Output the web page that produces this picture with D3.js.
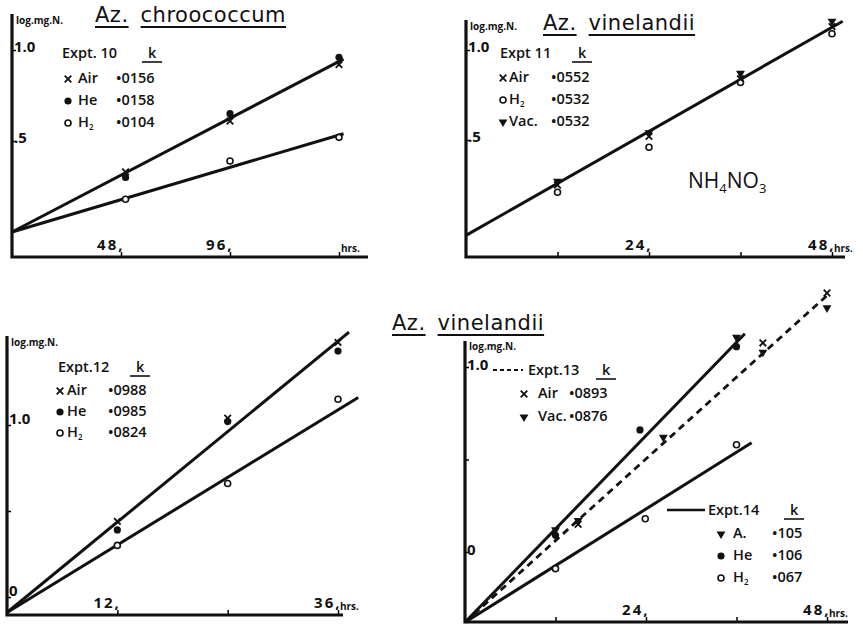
<!DOCTYPE html>
<html>
<head>
<meta charset="utf-8">
<script src="https://cdn.jsdelivr.net/npm/d3@7"></script>
<style>
  body { margin: 0; background: #fff; }
  svg { display: block; }
  text { font-family: "Open Sans", "DejaVu Sans", sans-serif; fill: #111; }
  .small { font-size: 10px; font-weight: 700; }
  .leg { font-size: 14.5px; font-weight: 600; }
  .title { font-size: 21px; font-family: "DejaVu Sans", sans-serif; letter-spacing: 0.5px; }
  .tick text { font-size: 15px; }
</style>
</head>
<body>
<div class="chart"></div>
<script>
// --- data (hours, log mg N) ---
// Expt 10, Az. chroococcum
var p1Hours = [50, 96, 144];
var p1Air = [0.33, 0.61, 0.92];
var p1He = [0.30, 0.65, 0.96];
var p1H2 = [0.18, 0.39, 0.52];
var p1FitHours = [0, 146];
var p1FitUpper = [0, 0.95];
var p1FitLower = [0, 0.54];
var p1Names = ["Air", "He", "H"];
var p1K = ["0156", "0158", "0104"];

// Expt 11, Az. vinelandii on NH4NO3
var p2Hours = [12, 24, 36, 48];
var p2Air = [0.25, 0.52, 0.84, 1.13];
var p2H2 = [0.21, 0.46, 0.82, 1.09];
var p2Vac = [0.27, 0.54, 0.87, 1.16];
var p2FitHours = [0, 49.4];
var p2Fit = [-0.03, 1.16];
var p2Names = ["Air", "H", "Vac."];
var p2K = ["0552", "0532", "0532"];

// Expt 12
var p3Hours = [12, 24, 36];
var p3Air = [0.44, 1.04, 1.48];
var p3He = [0.39, 1.02, 1.43];
var p3H2 = [0.30, 0.66, 1.15];
var p3FitHours = [0, 37.2, 38.2];
var p3FitUpper = [-0.09, 1.54];
var p3FitLower = [-0.09, 1.16];
var p3Names = ["Air", "He", "H"];
var p3K = ["0988", "0985", "0824"];

// Expt 13 (dashed) and Expt 14 (solid)
var p4AirHours = [15, 39.5, 48];
var p4Air = [0.15, 1.13, 1.40];
var p4VacHours = [15, 26.3, 39.5, 48];
var p4Vac = [0.17, 0.62, 1.08, 1.32];
var p4AHours = [12, 36];
var p4A = [0.12, 1.16];
var p4HeHours = [12, 23.2, 36];
var p4He = [0.09, 0.66, 1.11];
var p4H2Hours = [12, 23.9, 36];
var p4H2 = [-0.09, 0.18, 0.58];
var p4FitDashed = [[0, -0.38], [48.1, 1.39]];
var p4FitUpper = [[0, -0.38], [37.1, 1.18]];
var p4FitLower = [[0, -0.38], [38, 0.59]];
var p13Names = ["Air", "Vac."];
var p13K = ["0893", "0876"];
var p14Names = ["A.", "He", "H"];
var p14K = ["105", "106", "067"];

var svg = d3.select(".chart").append("svg")
			.attr("width", 863)
			.attr("height", 626);

function zip(xs, ys){
	return xs.map(function(d, i){ return [d, ys[i]]; });
}

function marker(g, kind, x, y){
	if(kind == "x"){
		g.append("path")
		 .attr("d", d3.symbol().type(d3.symbolTimes || d3.symbolX).size(30)())
		 .attr("transform", "translate(" + x + "," + y + ")")
		 .attr("fill", "none").attr("stroke", "#111").attr("stroke-width", 1.8);
	} else if(kind == "dot"){
		g.append("circle").attr("cx", x).attr("cy", y).attr("r", 3.6).attr("fill", "#111");
	} else if(kind == "circle"){
		g.append("circle").attr("cx", x).attr("cy", y).attr("r", 3)
		 .attr("fill", "#fff").attr("stroke", "#111").attr("stroke-width", 1.6);
	} else {
		g.append("path")
		 .attr("d", d3.symbol().type(d3.symbolTriangle).size(34)())
		 .attr("transform", "translate(" + x + "," + y + ") rotate(180)")
		 .attr("fill", "#111");
	}
}

function points(g, x, y, hours, vals, kind){
	zip(hours, vals).forEach(function(d){
		marker(g, kind, x(d[0]), y(d[1]));
	});
}

function fitLine(g, x, y, pts, dashed){
	g.append("path")
	 .datum(pts)
	 .attr("d", d3.line().x(function(d){ return x(d[0]); }).y(function(d){ return y(d[1]); }))
	 .attr("fill", "none")
	 .attr("stroke", "#111")
	 .attr("stroke-width", dashed ? 2.8 : 3)
	 .attr("stroke-dasharray", dashed ? "7,5" : null);
}

// frame of one panel: axes, tick marks, labels
function frame(p){
	var g = svg.append("g");
	var x = d3.scaleLinear().domain(p.xDomain).range(p.xRange);
	var y = d3.scaleLinear().domain(p.yDomain).range(p.yRange);

	var xa = g.append("g")
			  .attr("transform", "translate(0," + p.base + ")")
			  .call(d3.axisBottom(x)
					  .tickValues(p.xTicks)
					  .tickFormat(function(d, i){ return p.xLabels[i]; })
					  .tickSize(-5)
					  .tickPadding(-18));
	xa.select(".domain").remove();
	xa.selectAll("text").attr("text-anchor", "end").attr("dx", 3).attr("font-weight", 700)
	  .style("letter-spacing", "2px");
	xa.selectAll("line").attr("stroke-width", 1.5);

	var ya = g.append("g")
			  .attr("transform", "translate(" + p.xRange[0] + ",0)")
			  .call(d3.axisRight(y)
					  .tickValues(p.yTicks)
					  .tickFormat(function(d, i){ return p.yLabels[i]; })
					  .tickSize(4)
					  .tickPadding(-2));
	ya.select(".domain").remove();
	ya.selectAll("text").attr("dy", p.yDy).attr("font-weight", 700);
	ya.selectAll("line").attr("stroke-width", 1.5);

	// heavy hand-drawn axes
	g.append("path")
	 .attr("d", "M" + p.xRange[0] + "," + p.top + "V" + p.base + "H" + p.right)
	 .attr("fill", "none").attr("stroke", "#111").attr("stroke-width", 3.2);

	g.append("text").attr("class", "small")
	 .attr("x", x(p.hrsAt) + 2).attr("y", p.base - 5).text("hrs.");
	g.append("text").attr("class", "small")
	 .attr("x", p.xRange[0] + 4).attr("y", p.top + p.logDy).text("log.mg.N.");

	return {g: g, x: x, y: y};
}

function title(g, x, y, words){
	var cx = x;
	words.forEach(function(w){
		var t = g.append("text").attr("class", "title").attr("x", cx).attr("y", y).text(w);
		var b = t.node().getBBox();
		g.append("line").attr("x1", b.x).attr("x2", b.x + b.width)
		 .attr("y1", y + 5).attr("y2", y + 5).attr("stroke", "#111").attr("stroke-width", 1.8);
		cx = b.x + b.width + 12;
	});
}

function nameText(g, x, y, name){
	var t = g.append("text").attr("class", "leg").attr("x", x).attr("y", y).text(name);
	if(name == "H"){
		t.append("tspan").attr("dy", 3).attr("font-size", 8).text("2");
	}
	return t;
}

function header(g, x, y, label, kx){
	g.append("text").attr("class", "leg").attr("x", x).attr("y", y).text(label);
	g.append("text").attr("class", "leg").attr("x", kx).attr("y", y).attr("font-weight", 700).text("k");
	g.append("line").attr("x1", kx - 6).attr("x2", kx + 14).attr("y1", y + 4).attr("y2", y + 4)
	 .attr("stroke", "#111").attr("stroke-width", 1.6);
}

function legend(g, kinds, names, ks, mx, nx, kx, y0, dy){
	names.forEach(function(n, i){
		var yy = y0 + i * dy;
		marker(g, kinds[i], mx, yy - 4);
		nameText(g, nx, yy, n);
		g.append("text").attr("class", "leg").attr("x", kx).attr("y", yy)
		 .text("\u2022" + ks[i]);
	});
}

// ---------- panel 1 ----------
var a = frame({xDomain: [0, 144], xRange: [12, 339], yDomain: [0, 1], yRange: [232, 50],
			   base: 257, top: 14, right: 368, yDy: "0.1em", logDy: 10,
			   xTicks: [48, 96, 144], xLabels: ["48,", "96,", ""], hrsAt: 144,
			   yTicks: [1, 0.5], yLabels: ["1.0", ".5"]});
fitLine(a.g, a.x, a.y, zip(p1FitHours, p1FitUpper));
fitLine(a.g, a.x, a.y, zip(p1FitHours, p1FitLower));
points(a.g, a.x, a.y, p1Hours, p1H2, "circle");
points(a.g, a.x, a.y, p1Hours, p1He, "dot");
points(a.g, a.x, a.y, p1Hours, p1Air, "x");
title(a.g, 95, 22, ["Az.", "chroococcum"]);
header(a.g, 62, 58, "Expt. 10", 148);
legend(a.g, ["x", "dot", "circle"], p1Names, p1K, 68, 78, 116, 83, 22);

// ---------- panel 2 ----------
var b = frame({xDomain: [0, 48], xRange: [466, 832], yDomain: [0, 1], yRange: [230, 50],
			   base: 257, top: 20, right: 845, yDy: "0.1em", logDy: 10,
			   xTicks: [12, 24, 36, 48], xLabels: ["", "24,", "", "48,"], hrsAt: 48,
			   yTicks: [1, 0.5], yLabels: ["1.0", ".5"]});
fitLine(b.g, b.x, b.y, zip(p2FitHours, p2Fit));
points(b.g, b.x, b.y, p2Hours, p2H2, "circle");
points(b.g, b.x, b.y, p2Hours, p2Air, "x");
points(b.g, b.x, b.y, p2Hours, p2Vac, "tri");
title(b.g, 543, 30, ["Az.", "vinelandii"]);
header(b.g, 500, 58, "Expt 11", 578);
legend(b.g, ["x", "circle", "tri"], p2Names, p2K, 503, 509, 551, 82, 22);
var nh = b.g.append("text").attr("x", 688).attr("y", 188).attr("font-size", 21);
nh.append("tspan").text("NH");
nh.append("tspan").attr("dy", 5).attr("font-size", 13).text("4");
nh.append("tspan").attr("dy", -5).text("NO");
nh.append("tspan").attr("dy", 5).attr("font-size", 13).text("3");

// ---------- panel 3 ----------
var c = frame({xDomain: [0, 36], xRange: [7, 338], yDomain: [0, 1], yRange: [597, 425],
			   base: 615, top: 336, right: 343, yDy: "-0.1em", logDy: 10,
			   xTicks: [12, 24, 36], xLabels: ["12,", "", "36,"], hrsAt: 36,
			   yTicks: [1, 0.5, 0], yLabels: ["1.0", "", "0"]});
fitLine(c.g, c.x, c.y, [[p3FitHours[0], p3FitUpper[0]], [p3FitHours[1], p3FitUpper[1]]]);
fitLine(c.g, c.x, c.y, [[p3FitHours[0], p3FitLower[0]], [p3FitHours[2], p3FitLower[1]]]);
points(c.g, c.x, c.y, p3Hours, p3H2, "circle");
points(c.g, c.x, c.y, p3Hours, p3He, "dot");
points(c.g, c.x, c.y, p3Hours, p3Air, "x");
header(c.g, 58, 372, "Expt.12", 136);
legend(c.g, ["x", "dot", "circle"], p3Names, p3K, 60, 67, 108, 395, 21);

// ---------- panel 4 ----------
var d = frame({xDomain: [0, 48], xRange: [465, 827], yDomain: [0, 1], yRange: [552, 367],
			   base: 622, top: 341, right: 848, yDy: "0.15em", logDy: 9,
			   xTicks: [12, 24, 36, 48], xLabels: ["", "24,", "", "48,"], hrsAt: 48,
			   yTicks: [1, 0.5, 0], yLabels: ["1.0", "", "0"]});
fitLine(d.g, d.x, d.y, p4FitDashed, true);
fitLine(d.g, d.x, d.y, p4FitUpper);
fitLine(d.g, d.x, d.y, p4FitLower);
points(d.g, d.x, d.y, p4H2Hours, p4H2, "circle");
points(d.g, d.x, d.y, p4HeHours, p4He, "dot");
points(d.g, d.x, d.y, p4AHours, p4A, "tri");
points(d.g, d.x, d.y, p4AirHours, p4Air, "x");
points(d.g, d.x, d.y, p4VacHours, p4Vac, "tri");
title(svg, 392, 330, ["Az.", "vinelandii"]);

d.g.append("line").attr("x1", 493).attr("x2", 523).attr("y1", 370).attr("y2", 370)
   .attr("stroke", "#111").attr("stroke-width", 2).attr("stroke-dasharray", "4,3");
header(d.g, 528, 375, "Expt.13", 602);
legend(d.g, ["x", "tri"], p13Names, p13K, 524, 538, 569, 398, 23);

d.g.append("line").attr("x1", 667).attr("x2", 705).attr("y1", 510).attr("y2", 510)
   .attr("stroke", "#111").attr("stroke-width", 2.5);
header(d.g, 708, 515, "Expt.14", 790);
legend(d.g, ["tri", "dot", "circle"], p14Names, p14K, 721, 733, 772, 538, 22);
</script>
</body>
</html>
